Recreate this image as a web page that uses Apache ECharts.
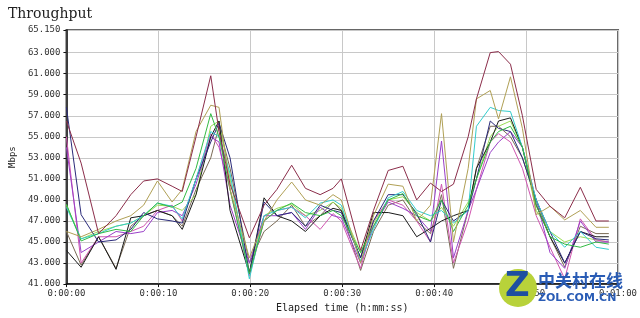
<!DOCTYPE html>
<html><head><meta charset="utf-8">
<script src="https://cdn.jsdelivr.net/npm/echarts@6/dist/echarts.min.js"></script>
<style>html,body{margin:0;padding:0;background:#fff}#c{width:640px;height:318px}</style>
</head><body><div id="c"></div>
<script>
// elapsed time of each sample, seconds
var times = [0,1.6,3.5,5.4,7.0,8.4,9.9,11.5,12.6,14.1,15.7,16.6,17.8,19.9,21.5,22.9,24.5,26.0,27.6,29.0,29.9,32.0,33.4,35.0,36.6,38.1,39.6,40.8,42.1,43.7,44.6,46.1,47.0,48.3,49.6,51.1,52.6,54.2,55.9,57.6,59.0];
var xTicks = ['0:00:00','0:00:10','0:00:20','0:00:30','0:00:40','0:00:50','0:01:00'];
var yTicks = [41,43,45,47,49,51,53,55,57,59,61,63,65.15];
var sMaroon = [56.5,52.5,45.8,47.5,49.5,50.8,51.0,50.3,49.8,55.0,60.8,55.5,50.5,45.4,48.5,50.0,52.3,50.1,49.5,50.1,51.0,44.2,48.0,51.8,52.2,49.0,50.6,49.8,50.5,55.0,58.6,63.0,63.1,61.9,57.0,50.0,48.4,47.3,50.2,47.0,47.0];
var sKhaki  = [46.0,45.5,46.2,47.0,47.5,48.5,50.8,48.8,50.0,55.5,58.0,57.8,50.0,43.5,47.0,49.0,50.7,49.0,48.5,49.5,49.0,43.0,47.5,50.5,50.3,47.0,48.5,57.2,45.0,52.0,58.6,59.4,56.7,60.7,55.8,47.6,48.4,47.1,48.0,46.4,46.4];
var sGreen  = [48.6,45.1,45.8,46.2,46.0,47.5,48.7,48.3,48.8,52.0,57.2,55.0,50.0,42.0,47.0,48.0,48.7,47.8,47.5,48.0,47.5,44.0,46.5,49.0,49.6,47.5,47.0,49.0,46.0,48.5,51.0,54.5,55.5,56.0,54.0,48.5,45.5,44.8,44.5,45.0,44.8];
var sCyan   = [48.3,45.3,45.8,46.5,46.8,47.5,48.7,48.4,47.2,51.0,55.5,55.0,51.5,41.5,47.5,48.0,48.3,47.3,48.7,49.0,48.5,43.2,46.2,49.2,49.8,48.0,47.5,48.0,46.8,48.0,56.0,57.8,57.5,57.4,54.0,49.0,46.0,44.5,46.0,44.5,44.3];
var sNavy   = [57.8,47.6,45.0,45.2,46.2,47.8,47.2,47.0,46.8,51.0,54.5,56.3,53.0,42.0,48.8,47.5,47.8,46.5,48.5,48.0,47.8,43.5,47.0,49.5,49.5,47.7,45.0,49.0,47.0,48.0,51.0,56.5,55.8,55.5,53.0,49.0,46.0,43.0,46.0,45.3,45.2];
var sBlack  = [44.2,42.6,45.5,42.4,47.3,47.5,48.0,47.5,46.2,49.5,55.0,56.5,48.0,42.0,49.2,47.5,47.0,46.0,47.5,48.2,48.0,43.5,47.8,47.8,47.5,45.5,46.3,47.0,47.5,48.0,52.0,54.5,56.5,56.8,54.0,48.5,45.5,43.0,46.0,45.5,45.5];
var sPurple = [54.0,44.0,45.0,46.0,45.8,46.0,47.8,48.0,47.5,50.5,55.0,54.5,48.5,43.0,47.5,47.5,47.8,46.2,48.3,47.5,47.3,43.0,46.5,48.8,48.2,47.5,46.0,54.6,43.5,48.0,50.0,53.5,54.5,55.5,54.0,49.0,44.0,42.5,47.0,45.0,45.0];
var sPink   = [55.0,43.0,45.5,45.5,46.0,46.5,48.0,48.5,47.0,51.0,55.3,54.0,50.0,41.8,47.0,48.0,48.3,47.5,46.2,47.7,47.0,42.5,47.0,49.0,48.5,47.0,45.0,50.5,43.0,47.0,50.0,54.5,55.3,54.5,52.0,47.5,44.5,41.5,47.2,45.2,45.0];
var sLime   = [48.5,45.3,46.0,46.5,46.8,47.5,48.5,48.4,48.0,49.5,56.0,56.5,51.0,42.2,47.5,48.2,48.6,47.5,48.0,48.8,48.2,44.0,46.8,49.0,49.3,47.8,47.0,48.3,46.5,48.8,51.0,55.0,56.0,56.5,54.0,48.0,46.0,45.0,45.5,45.2,45.0];
var sTaupe  = [46.0,42.8,45.5,42.5,46.5,47.5,48.0,47.5,46.5,50.0,53.0,56.0,52.0,43.0,46.0,47.0,48.5,46.5,47.5,48.8,48.0,42.3,46.0,48.5,49.0,47.0,45.8,49.5,42.5,48.0,52.0,56.0,56.0,55.0,53.0,49.0,45.5,42.6,46.5,45.8,45.8];

var seriesList = [
  {v:sTaupe, c:'#7a6a55'},
  {v:sLime, c:'#99dd55'},
  {v:sPink, c:'#d055b0'},
  {v:sPurple, c:'#9a40c8'},
  {v:sBlack, c:'#1a1a1a'},
  {v:sNavy, c:'#2a2a7a'},
  {v:sCyan, c:'#33cccc'},
  {v:sGreen, c:'#33bb44'},
  {v:sKhaki, c:'#b0a055'},
  {v:sMaroon, c:'#8b2d4a'}
];

var chart = echarts.init(document.getElementById('c'));
var font = 'DejaVu Sans Mono';
chart.setOption({
  animation:false,
  backgroundColor:'#fff',
  title:{text:'Throughput', left:3, top:2, textStyle:{fontFamily:'DejaVu Serif', fontSize:14, fontWeight:'normal', color:'#222'}},
  grid:{left:52, right:21, top:30, bottom:31, show:true, borderColor:'#666', borderWidth:2},
  xAxis:{type:'value', min:0, max:60, interval:10,
    name:'Elapsed time (h:mm:ss)', nameLocation:'middle', nameGap:16,
    nameTextStyle:{fontFamily:font, fontSize:10, color:'#222'},
    axisLine:{lineStyle:{color:'#111', width:1.5}},
    axisTick:{length:3, lineStyle:{color:'#111'}},
    axisLabel:{fontFamily:font, fontSize:9, color:'#333', margin:5,
      formatter:function(v){return xTicks[Math.round(v/10)];}},
    splitLine:{show:true, lineStyle:{color:'#c8c8c8'}}},
  yAxis:{type:'value', min:41, max:65.15,
    name:'Mbps', nameLocation:'middle', nameGap:42, nameRotate:90,
    nameTextStyle:{fontFamily:font, fontSize:9, color:'#222'},
    axisLine:{show:true, lineStyle:{color:'#111', width:1.5}},
    axisTick:{show:true, length:3, customValues:yTicks, lineStyle:{color:'#111'}},
    axisLabel:{fontFamily:font, fontSize:9, color:'#333', margin:6, customValues:yTicks,
      formatter:function(v){return v.toFixed(3);}},
    splitLine:{show:true, lineStyle:{color:'#c8c8c8'}}},
  graphic:[
    {type:'circle', shape:{cx:518, cy:288, r:19}, style:{fill:'#b8d23a'}, z:100},
    {type:'text', left:505, top:270, style:{text:'Z', fill:'#1e4fa0', font:'bold 34px DejaVu Sans'}, z:101},
    {type:'text', left:538, top:272, style:{text:'中关村在线', fill:'#2a5cb5', font:'bold 17px "Noto Sans CJK SC"'}, z:101},
    {type:'text', left:538, top:293, style:{text:'ZOL.COM.CN', fill:'#2a5cb5', font:'bold 11px DejaVu Sans'}, z:101}
  ],
  series: seriesList.map(function(s){
    return {type:'line', data: times.map(function(t,i){return [t, s.v[i]];}),
      showSymbol:false, symbol:'none', lineStyle:{width:1, color:s.c}, itemStyle:{color:s.c}};
  })
});
</script></body></html>
